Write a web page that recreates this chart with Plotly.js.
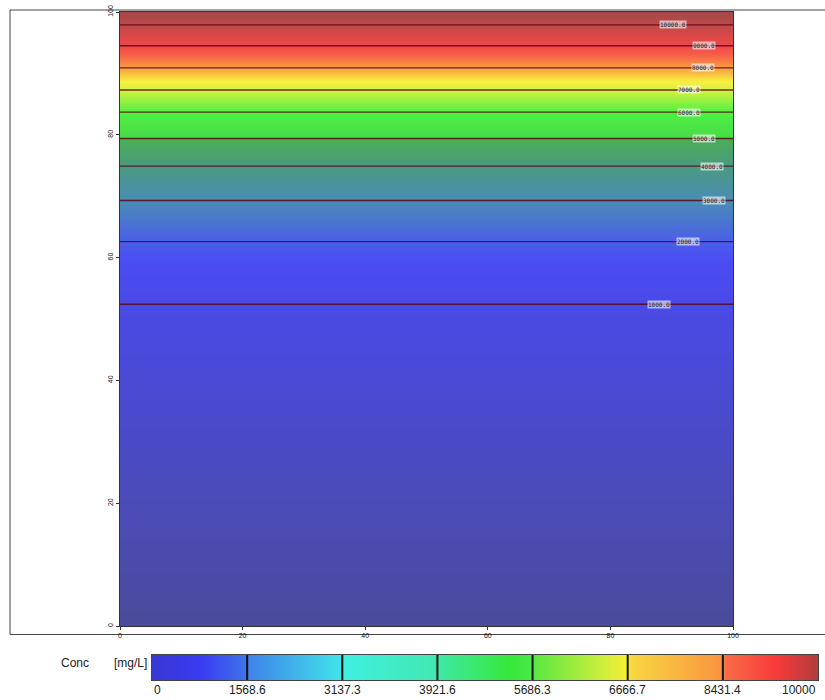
<!DOCTYPE html>
<html>
<head>
<meta charset="utf-8">
<script src="https://cdn.plot.ly/plotly-3.0.1.min.js"></script>
<style>html,body{margin:0;padding:0;background:#fff;}#chart{width:825px;height:700px;}</style>
</head>
<body>
<div id="chart"></div>
<script>
// ---- data ----
// concentration profile vs. vertical position (uniform along x)
const profileY    = [0, 52.4, 62.6, 69.3, 74.9, 79.4, 83.7, 87.3, 90.9, 94.5, 97.9, 100];
const profileConc = [0, 1000, 2000, 3000, 4000, 5000, 6000, 7000, 8000, 9000, 10000, 10600];
const profileX    = [0, 100];

// contour levels and where their labels sit along x
const contourLevels = [1000, 2000, 3000, 4000, 5000, 6000, 7000, 8000, 9000, 10000];
const contourLabelX = [87.9, 92.6, 96.9, 96.6, 95.3, 92.8, 92.8, 95.1, 95.3, 90.2];

// axis ticks
const xTicks = [0, 20, 40, 60, 80, 100];
const yTicks = [0, 20, 40, 60, 80, 100];

// legend colour bar tick labels
const legendLabels = ['0', '1568.6', '3137.3', '3921.6', '5686.3', '6666.7', '8431.4', '10000'];

// ---- styles ----
const fieldZMax = 10600;
const fieldStops = [
  [0, '#4b4b9b'], [1000, '#4a4ae6'], [1700, '#4a4cf4'], [2000, '#4a5eea'],
  [3000, '#4a8cb6'], [4000, '#4a9a80'], [4950, '#4aac56'], [5050, '#48dc48'],
  [6000, '#50f040'], [7000, '#d4f040'], [7400, '#f8f040'], [8000, '#f8a040'],
  [8600, '#f86048'], [9000, '#f04848'], [10000, '#c24848'], [10600, '#a24848']
];
const legendStops = [
  [0, '#3838d4'], [0.5, '#3a3af2'], [1, '#3f74ea'], [1.02, '#3f84ea'],
  [2, '#40e4ea'], [2.02, '#40f0e0'], [3, '#40e8b0'], [3.02, '#40e8a4'],
  [3.75, '#36e83a'], [4, '#4ae84a'], [4.02, '#5ce842'], [5, '#f8f038'],
  [5.02, '#f8d840'], [6, '#f89240'], [6.02, '#f86c48'], [6.55, '#f83a3a'], [7, '#b03c3c']
];

const W = 825, H = 700;
const px = v => v / W;
const py = v => (H - v) / H;

const nSeg = legendLabels.length - 1;
const legendIdx = legendLabels.map((_, i) => i);

const zGrid = profileConc.map(c => profileX.map(() => c));

const traces = [
  {
    type: 'heatmap', x: profileX, y: profileY, z: zGrid,
    zmin: 0, zmax: fieldZMax, zsmooth: 'best', showscale: false,
    colorscale: fieldStops.map(s => [s[0] / fieldZMax, s[1]]),
    hoverinfo: 'skip', xaxis: 'x', yaxis: 'y'
  },
  {
    type: 'contour', x: profileX, y: profileY, z: zGrid, showscale: false,
    contours: {coloring: 'none', start: contourLevels[0], end: contourLevels[contourLevels.length - 1],
               size: contourLevels[1] - contourLevels[0], showlabels: false},
    line: {color: 'rgba(85,8,22,0.85)', width: 1.4, smoothing: 0},
    hoverinfo: 'skip', xaxis: 'x', yaxis: 'y'
  },
  {
    type: 'heatmap', x: legendIdx, y: [0, 1],
    z: [legendIdx, legendIdx], zmin: 0, zmax: nSeg, zsmooth: 'best', showscale: false,
    colorscale: legendStops.map(s => [s[0] / nSeg, s[1]]),
    hoverinfo: 'skip', xaxis: 'x2', yaxis: 'y2'
  },
  (function () {
    const xs = [], ys = [];
    legendIdx.slice(1, -1).forEach(i => { xs.push(i, i, null); ys.push(0, 1, null); });
    return {type: 'scatter', mode: 'lines', x: xs, y: ys, line: {color: '#111', width: 2},
            hoverinfo: 'skip', showlegend: false, xaxis: 'x2', yaxis: 'y2'};
  })()
];

const annotations = [];
contourLevels.forEach((lv, i) => {
  const k = profileConc.indexOf(lv);
  annotations.push({
    xref: 'x', yref: 'y', x: contourLabelX[i], y: profileY[k],
    text: lv.toFixed(1), showarrow: false, xanchor: 'center', yanchor: 'middle',
    font: {size: 6, color: '#1a1a1a', family: 'DejaVu Sans Mono, monospace'},
    bgcolor: 'rgba(255,255,255,0.6)', borderpad: 0
  });
});
legendLabels.forEach((t, i) => {
  annotations.push({
    xref: 'x2', yref: 'paper', x: i, y: py(690), text: t, showarrow: false,
    xanchor: i === 0 ? 'left' : (i === nSeg ? 'right' : 'center'), yanchor: 'middle',
    font: {size: 12, color: '#222'}
  });
});
annotations.push({xref: 'paper', yref: 'paper', x: px(75), y: py(663), text: 'Conc', showarrow: false,
                  xanchor: 'center', yanchor: 'middle', font: {size: 12, color: '#222'}});
annotations.push({xref: 'paper', yref: 'paper', x: px(149), y: py(663), text: '[mg/L]', showarrow: false,
                  xanchor: 'right', yanchor: 'middle', font: {size: 12, color: '#222'}});

const layout = {
  width: W, height: H,
  margin: {l: 0, r: 0, t: 0, b: 0},
  paper_bgcolor: '#fff', plot_bgcolor: '#fff',
  font: {family: 'Liberation Sans, Arial, sans-serif', color: '#222'},
  showlegend: false,
  xaxis: {
    domain: [px(120), px(733)], range: [0, 100], tickvals: xTicks, ticktext: xTicks.map(String),
    ticks: 'outside', ticklen: 3, tickcolor: '#333', tickfont: {size: 7, color: '#111'},
    showline: true, mirror: true, linecolor: '#333', linewidth: 1,
    showgrid: false, zeroline: false, anchor: 'y', fixedrange: true
  },
  yaxis: {
    domain: [py(626), py(12)], range: [0, 100], tickvals: yTicks, ticktext: yTicks.map(String),
    ticks: 'outside', ticklen: 3, tickcolor: '#333', tickangle: -90, tickfont: {size: 7, color: '#111'},
    showline: true, mirror: true, linecolor: '#333', linewidth: 1,
    showgrid: false, zeroline: false, anchor: 'x', fixedrange: true
  },
  xaxis2: {
    domain: [px(152), px(818)], range: [0, nSeg], showticklabels: false, ticks: '',
    showline: true, mirror: true, linecolor: '#444', linewidth: 1,
    showgrid: false, zeroline: false, anchor: 'y2', fixedrange: true
  },
  yaxis2: {
    domain: [py(680), py(655)], range: [0, 1], showticklabels: false, ticks: '',
    showline: true, mirror: true, linecolor: '#444', linewidth: 1,
    showgrid: false, zeroline: false, anchor: 'x2', fixedrange: true
  },
  shapes: [
    {type: 'rect', xref: 'paper', yref: 'paper', x0: px(10), x1: 1.02, y0: py(634.5), y1: py(10),
     line: {color: '#444', width: 1}, fillcolor: 'rgba(0,0,0,0)', layer: 'below'}
  ],
  annotations: annotations
};

Plotly.newPlot('chart', traces, layout, {displayModeBar: false, staticPlot: true});
</script>
</body>
</html>
